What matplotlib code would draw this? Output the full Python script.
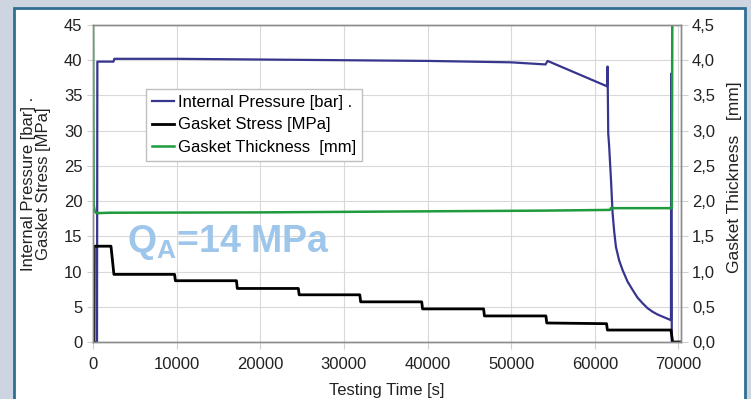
import matplotlib
matplotlib.use('Agg')
import matplotlib.pyplot as plt
from matplotlib.patches import Rectangle

plt.rcParams['font.family'] = ['Liberation Sans', 'DejaVu Sans']
plt.rcParams['mathtext.fontset'] = 'custom'
plt.rcParams['mathtext.rm'] = 'Liberation Sans'
plt.rcParams['mathtext.bf'] = 'Liberation Sans:bold'

# ======= Dados =======

# Pressão interna [bar]
t_pressure = [0, 480, 520, 2450, 2550, 10000, 20000, 30000, 40000, 50000,
              54100, 54350, 61450, 61520, 61600, 61700, 61930, 62120, 62320,
              62520, 62900, 63320, 63900, 64510, 65100, 65710, 66300, 66900,
              67500, 68100, 69100, 69130, 69200]
pressure = [0, 0, 39.8, 39.8, 40.2, 40.2, 40.1, 40.0, 39.9, 39.7,
            39.4, 39.9, 36.3, 39.1, 29.6, 28.0, 23.0, 18.3, 15.6,
            13.5, 11.6, 10.2, 8.6, 7.4, 6.3, 5.5, 4.8, 4.3,
            3.9, 3.6, 3.1, 38.1, 0]

# Tensão na junta [MPa]
t_stress = [0, 120, 150, 2150, 2500, 9750, 9850, 17150, 17250, 24550, 24650,
            31900, 32000, 39300, 39400, 46700, 46800, 54150, 54250, 61400,
            61500, 69100, 69300, 70200]
stress = [0, 0, 13.6, 13.6, 9.6, 9.6, 8.7, 8.7, 7.6, 7.6, 6.7,
          6.7, 5.7, 5.7, 4.7, 4.7, 3.7, 3.7, 2.7, 2.6,
          1.7, 1.7, 0, 0]

# Espessura da junta [mm]
t_thick = [0, 80, 200, 400, 700, 2000, 20000, 40000, 54000, 61800, 61950,
           62100, 69200, 69260]
thickness = [4.6, 1.95, 1.86, 1.83, 1.83, 1.835, 1.84, 1.855, 1.865, 1.875,
             1.905, 1.9, 1.9, 4.6]

x_ticks = [0, 10000, 20000, 30000, 40000, 50000, 60000, 70000]
left_ticks = [0, 5, 10, 15, 20, 25, 30, 35, 40, 45]
right_ticks = [0.0, 0.5, 1.0, 1.5, 2.0, 2.5, 3.0, 3.5, 4.0, 4.5]
right_labels = ['0,0', '0,5', '1,0', '1,5', '2,0', '2,5', '3,0', '3,5', '4,0', '4,5']

# ======= Figura =======
fig = plt.figure(figsize=(7.51, 3.99), dpi=100)
fig.patch.set_facecolor('#cdd6e0')
fig.patches.append(Rectangle((14/751, -0.05), 731/751, 1.05 - 8/399,
                             transform=fig.transFigure, facecolor='white',
                             edgecolor='#2f6f93', lw=2, zorder=-10))

ax = fig.add_axes([93/751, (399-342)/399, 588/751, 317/399])
ax2 = ax.twinx()

blue = '#38358f'
green = '#1f9a3c'

l1, = ax.plot(t_pressure, pressure, color=blue, lw=1.6, label='Internal Pressure [bar] .')
l2, = ax.plot(t_stress, stress, color='black', lw=2.0, label='Gasket Stress [MPa]')
l3, = ax2.plot(t_thick, thickness, color=green, lw=1.8, label='Gasket Thickness  [mm]')

ax.set_xlim(0, 70300)
ax.set_ylim(0, 45)
ax2.set_ylim(0, 4.5)
ax.set_xticks(x_ticks)
ax.set_yticks(left_ticks)
ax2.set_yticks(right_ticks)
ax2.set_yticklabels(right_labels)

ax.grid(True, color='#d9d9d9', lw=0.8)
ax.set_axisbelow(True)
for a in (ax, ax2):
    for s in a.spines.values():
        s.set_color('#8c8c8c')
        s.set_linewidth(1.0)
ax.tick_params(axis='x', direction='out', length=5, width=0.8, pad=6,
               labelsize=12, colors='#222222', color='#d0d0d0')
ax.tick_params(axis='y', direction='out', length=4.5, width=0.8, pad=3,
               labelsize=12, colors='#222222', color='#d0d0d0')
ax2.tick_params(axis='y', direction='out', length=5, width=0.8, pad=3,
                labelsize=12, colors='#222222', color='#d0d0d0')

ax2.legend(handles=[l1, l2, l3], loc='upper left', bbox_to_anchor=(0.09, 0.798),
           borderaxespad=0, fontsize=12, handlelength=1.35, handletextpad=0.25,
           labelspacing=0.45, borderpad=0.35, fancybox=False, framealpha=1,
           edgecolor='#bfbfbf')

ax.text(4070, 12.8, r'$\mathbf{Q_A}$=14 MPa', color='#9dc6ea', fontsize=27,
        fontweight='bold', ha='left', va='baseline')

fig.text(36/751, 1 - 184/399, 'Internal Pressure [bar] .\nGasket Stress [MPa]',
         rotation=90, ha='center', va='center', multialignment='center',
         fontsize=12, linespacing=1.0, color='#222222')
fig.text(734/751, 1 - 177/399, 'Gasket Thickness   [mm]', rotation=90,
         ha='center', va='center', fontsize=12.5, color='#222222')
fig.text(387/751, 1/399, 'Testing Time [s]', ha='center', va='bottom',
         fontsize=12, color='#222222')

fig.savefig('out.png', dpi=100, facecolor=fig.get_facecolor())
